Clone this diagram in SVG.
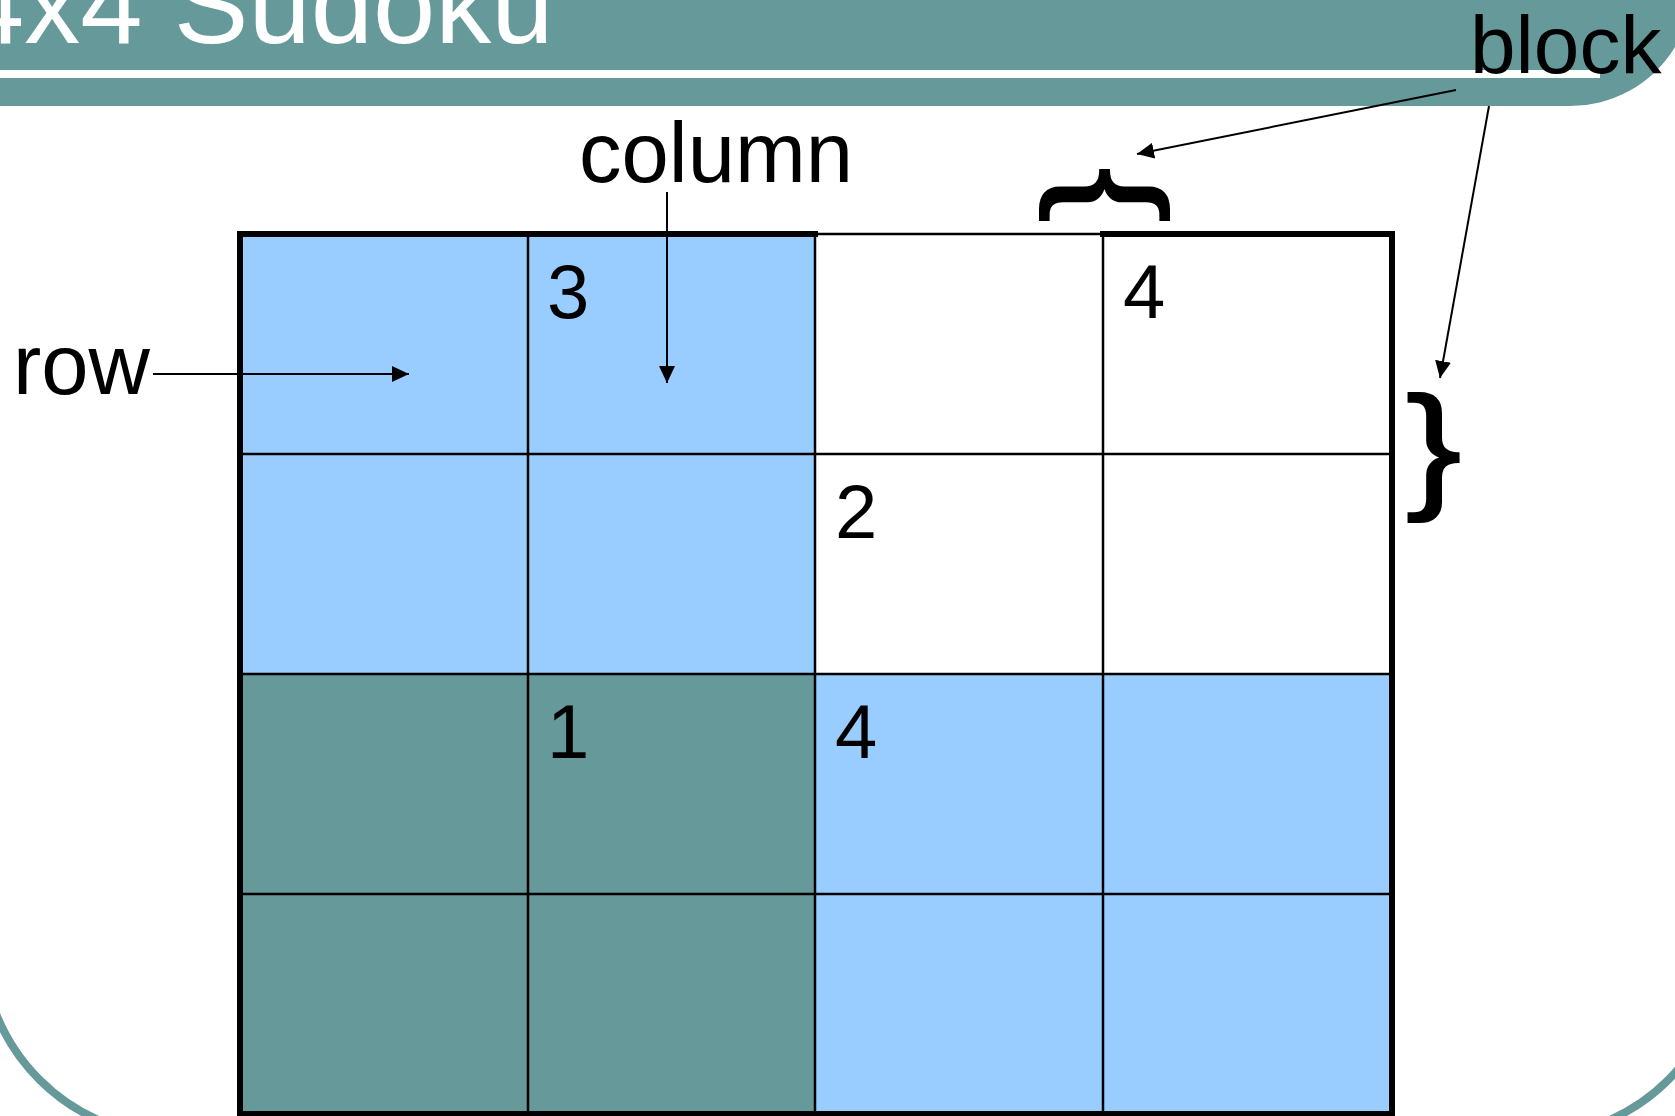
<svg xmlns="http://www.w3.org/2000/svg" width="1675" height="1116" viewBox="0 0 1675 1116">
<style>
.teal{fill:#669999}
.blue{fill:#99CCFF}
.thin{stroke:#000;stroke-width:2.5;fill:none}
.thick{stroke:#000;stroke-width:6;fill:none;stroke-linecap:square}
.lbl{font-family:"Liberation Sans",Arial,sans-serif;font-size:85px;fill:#000}
.dig{font-family:"Liberation Sans",Arial,sans-serif;font-size:76px;fill:#000}
.brace{font-family:"Liberation Sans",Arial,sans-serif;font-size:137px;fill:#000;stroke:#000;stroke-width:2}
.title{font-family:"Liberation Sans",Arial,sans-serif;font-size:112px;fill:#fff}
.conn{stroke:#000;stroke-width:2;fill:none}
</style>
<defs>
<marker id="ah" markerUnits="userSpaceOnUse" markerWidth="18" markerHeight="16" refX="17" refY="8" orient="auto">
<path d="M0,0 L17,8 L0,16 Z" fill="#000"/>
</marker>
</defs>
<rect x="0" y="0" width="1675" height="1116" fill="#fff"/>
<g id="frame">
<rect x="-18" y="-300" width="1744" height="1437" rx="196" fill="none" stroke="#669999" stroke-width="8"/>
</g>
<g id="title-band">
<path class="teal" d="M0,0 H1675 V47 A122,122 0 0 1 1568,106 H0 Z"/>
<rect x="0" y="70" width="1600" height="8" fill="#fff"/>
<text class="title" x="-38" y="43">4x4 Sudoku</text>
</g>
<g id="grid">
<g id="block-top-left"><rect class="blue" x="240" y="234" width="575" height="440"/></g>
<g id="block-top-right"><rect x="815" y="234" width="577" height="440" fill="#fff"/></g>
<g id="block-bottom-left"><rect class="teal" x="240" y="674" width="575" height="440"/></g>
<g id="block-bottom-right"><rect class="blue" x="815" y="674" width="577" height="440"/></g>
<path class="thin" d="M528,234 V1114 M815,234 V1114 M1103,234 V1114 M240,454 H1392 M240,674 H1392 M240,894 H1392 M815,234 H1103"/>
<path class="thick" d="M240,234 H815 M1103,234 H1392 V1114 H240 V234"/>
</g>
<g id="digits">
<text class="dig" x="547" y="318">3</text>
<text class="dig" x="1123" y="318">4</text>
<text class="dig" x="835" y="538">2</text>
<text class="dig" x="547" y="758">1</text>
<text class="dig" x="835" y="758">4</text>
</g>
<g id="label-row"><text class="lbl" x="13" y="394">row</text></g>
<g id="label-column"><text class="lbl" x="579" y="182">column</text></g>
<g id="label-block"><text class="lbl" x="1470" y="73" style="font-size:82px">block</text></g>
<g id="brace-horizontal"><text class="brace" transform="translate(1139.5,222.6) rotate(-90) scale(1.21,1)">}</text></g>
<g id="brace-vertical"><text class="brace" transform="translate(1406,492.7) scale(1.21,1)">}</text></g>
<g id="connectors">
<path class="conn" d="M153,374 H409" marker-end="url(#ah)"/>
<path class="conn" d="M667,192 V383" marker-end="url(#ah)"/>
<path class="conn" d="M1456,90 L1137,154" marker-end="url(#ah)"/>
<path class="conn" d="M1489,106 L1440,378" marker-end="url(#ah)"/>
</g>
</svg>
